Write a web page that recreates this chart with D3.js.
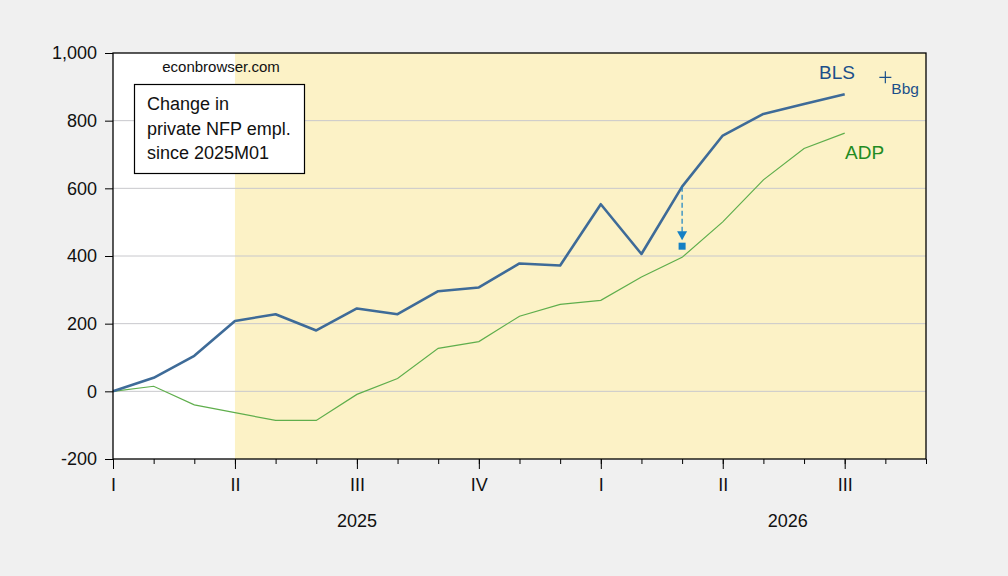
<!DOCTYPE html>
<html>

<head>
  <meta charset='utf-8'>
  <style>
    body { margin: 0; background: #f0f0f0; }
    svg { display: block; font-family: "Liberation Sans", Arial, sans-serif; }
  </style>
  <script type="text/javascript" src="https://cdn.jsdelivr.net/npm/d3@7"></script>
</head>

<body>

  <script type='module'>
    // monthly categories, 2025M01 .. 2026M09
    const months = ["2025-01", "2025-02", "2025-03", "2025-04", "2025-05", "2025-06", "2025-07",
      "2025-08", "2025-09", "2025-10", "2025-11", "2025-12", "2026-01", "2026-02", "2026-03",
      "2026-04", "2026-05", "2026-06", "2026-07", "2026-08", "2026-09"]
    // change in private NFP employment since 2025M01, thousands
    const bls = [0, 40, 105, 208, 228, 180, 245, 228, 296, 307, 378, 372, 553, 406, 605, 756, 820, 849, 878]
    const adp = [0, 15, -40, -63, -86, -86, -9, 38, 127, 147, 222, 257, 269, 338, 396, 501, 625, 718, 763]
    const bbg = { month: "2026-08", value: 928 }
    const revision = { month: "2026-03", from: 605, to: 429 }
    const shadeFrom = "2025-04"
    const quarterTicks = ["2025-01", "2025-04", "2025-07", "2025-10", "2026-01", "2026-04", "2026-07"]
    const quarterLabels = ["I", "II", "III", "IV", "I", "II", "III"]
    const yTicks = [-200, 0, 200, 400, 600, 800, 1000]
    const years = [{ label: "2025", at: 6 }, { label: "2026", at: 16.6 }]
    const noteLines = ["Change in", "private NFP empl.", "since 2025M01"]

    let [width, height] = [1008, 576]
    const m = { left: 113, right: 926, top: 53, bottom: 459 }

    const svg = d3.select("body").append("svg")
      .attr("width", width).attr("height", height)

    const x = d3.scalePoint().domain(months).range([m.left, m.right])
    const y = d3.scaleLinear().domain([-200, 1000]).range([m.bottom, m.top])
    const xi = d3.scaleLinear().domain([0, months.length - 1]).range([m.left, m.right])

    // plot background + shading
    svg.append("rect")
      .attr("x", m.left).attr("y", m.top)
      .attr("width", m.right - m.left).attr("height", m.bottom - m.top)
      .attr("fill", "#fff")
    svg.append("rect")
      .attr("x", x(shadeFrom)).attr("y", m.top)
      .attr("width", m.right - x(shadeFrom)).attr("height", m.bottom - m.top)
      .attr("fill", "#fcf2c6")

    // grid
    svg.append("g").selectAll("line")
      .data(yTicks.filter(d => d > -200 && d < 1000))
      .join("line")
      .attr("x1", m.left).attr("x2", m.right)
      .attr("y1", d => y(d)).attr("y2", d => y(d))
      .attr("stroke", "#c8c8cc").attr("stroke-width", 1)

    // y axis
    const fmt = d => d3.format(",")(d).replace("\u2212", "-")
    const gy = svg.append("g")
      .attr("transform", `translate(${m.left},0)`)
      .call(d3.axisLeft(y).tickValues(yTicks).tickFormat(fmt).tickSize(8).tickPadding(8))
    gy.select(".domain").remove()
    gy.selectAll("text").attr("font-size", 18).attr("fill", "#111").attr("font-family", null)
    gy.selectAll("line").attr("stroke", "#000")

    // x axis: minor month ticks + quarter ticks
    const gxMinor = svg.append("g")
      .attr("transform", `translate(0,${m.bottom})`)
      .call(d3.axisBottom(x).tickValues(months).tickSize(5).tickFormat(""))
    gxMinor.select(".domain").remove()
    gxMinor.selectAll("line").attr("stroke", "#000")

    const gx = svg.append("g")
      .attr("transform", `translate(0,${m.bottom})`)
      .call(d3.axisBottom(x).tickValues(quarterTicks).tickSize(10).tickPadding(9)
        .tickFormat((d, i) => quarterLabels[i]))
    gx.select(".domain").remove()
    gx.selectAll("line").attr("stroke", "#000")
    gx.selectAll("text").attr("font-size", 18).attr("fill", "#111").attr("font-family", null)

    svg.append("g").selectAll("text")
      .data(years)
      .join("text")
      .attr("x", d => xi(d.at)).attr("y", 527)
      .attr("text-anchor", "middle")
      .attr("font-size", 18).attr("fill", "#111")
      .text(d => d.label)

    // lines
    const line = d3.line().x((d, i) => x(months[i])).y(d => y(d))
    svg.append("path")
      .attr("d", line(adp))
      .attr("fill", "none").attr("stroke", "#5fae4c").attr("stroke-width", 1.2)
    svg.append("path")
      .attr("d", line(bls))
      .attr("fill", "none").attr("stroke", "#3e6b98").attr("stroke-width", 2.6)
      .attr("stroke-linejoin", "round")

    // revision arrow
    const ax = x(revision.month)
    const tipY = y(revision.to) - 6
    svg.append("line")
      .attr("x1", ax).attr("x2", ax)
      .attr("y1", y(revision.from)).attr("y2", tipY - 8)
      .attr("stroke", "#1580c4").attr("stroke-width", 1.2)
      .attr("stroke-dasharray", "5,3")
    svg.append("path")
      .attr("d", `M${ax - 5},${tipY - 9}L${ax + 5},${tipY - 9}L${ax},${tipY}Z`)
      .attr("fill", "#1580c4")
    svg.append("rect")
      .attr("x", ax - 3.5).attr("y", y(revision.to) - 3.5)
      .attr("width", 7).attr("height", 7)
      .attr("fill", "#1580c4")

    // Bbg marker
    const bx = x(bbg.month), by = y(bbg.value)
    svg.append("path")
      .attr("d", `M${bx - 6},${by}H${bx + 6}M${bx},${by - 6}V${by + 6}`)
      .attr("stroke", "#1b4f8a").attr("stroke-width", 1.2)
    svg.append("text")
      .attr("x", bx + 6).attr("y", by + 17)
      .attr("font-size", 15.5).attr("fill", "#1b4f8a")
      .text("Bbg")

    // series labels
    svg.append("text")
      .attr("x", 819).attr("y", 79)
      .attr("font-size", 19).attr("fill", "#1b4f8a")
      .text("BLS")
    svg.append("text")
      .attr("x", 845).attr("y", 159)
      .attr("font-size", 19).attr("fill", "#228b22")
      .text("ADP")

    // frame
    svg.append("rect")
      .attr("x", m.left).attr("y", m.top)
      .attr("width", m.right - m.left).attr("height", m.bottom - m.top)
      .attr("fill", "none").attr("stroke", "#000").attr("stroke-width", 1.3)

    // source and note box
    svg.append("text")
      .attr("x", 221).attr("y", 72)
      .attr("text-anchor", "middle")
      .attr("font-size", 15).attr("fill", "#111")
      .text("econbrowser.com")

    svg.append("rect")
      .attr("x", 134.5).attr("y", 84.5)
      .attr("width", 170).attr("height", 89)
      .attr("fill", "#fff").attr("stroke", "#000").attr("stroke-width", 1.2)
    svg.append("g").selectAll("text")
      .data(noteLines)
      .join("text")
      .attr("x", 147).attr("y", (d, i) => 110 + i * 24.7)
      .attr("font-size", 18).attr("fill", "#111")
      .text(d => d)
  </script>
</body>

</html>
